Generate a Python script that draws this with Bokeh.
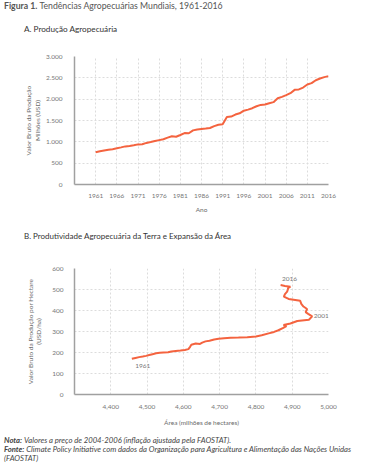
from bokeh.plotting import figure
from bokeh.models import FixedTicker, CustomJSTickFormatter, NumeralTickFormatter, Range1d, Div
from bokeh.layouts import column
from bokeh.embed import file_html
from bokeh.resources import INLINE
from bokeh.core.properties import value

# ---------------- data ----------------
years = list(range(1961, 2017))

# A. Gross production value, million USD (2004-2006 prices)
production = [758, 778, 795, 812, 828, 848, 870, 893, 905, 920,
              940, 945, 975, 995, 1018, 1040, 1062, 1098, 1130, 1120,
              1160, 1205, 1200, 1268, 1290, 1300, 1310, 1325, 1368, 1400,
              1412, 1580, 1592, 1640, 1668, 1730, 1755, 1788, 1834, 1866,
              1875, 1905, 1930, 2020, 2055, 2094, 2140, 2218, 2228, 2272,
              2344, 2375, 2444, 2484, 2516, 2540]

# B. Agricultural area (million ha) and productivity (USD/ha)
area = [4458, 4468, 4478, 4488, 4497, 4506, 4515, 4525, 4535, 4545,
        4558, 4567, 4579, 4592, 4604, 4614, 4619, 4622, 4634, 4646,
        4652, 4661, 4672, 4685, 4697, 4712, 4730, 4752, 4776, 4800,
        4816, 4835, 4850, 4862, 4874, 4884, 4876, 4895, 4914, 4946,
        4955, 4944, 4937, 4941, 4931, 4925, 4922, 4890, 4877, 4880,
        4886, 4888, 4889, 4895, 4880, 4868]
productivity = [170, 174, 178, 181, 184, 188, 192, 196, 199, 200,
                201, 205, 207, 209, 212, 216, 228, 237, 243, 241,
                247, 253, 256, 262, 265, 268, 270, 271, 273, 276,
                282, 291, 298, 306, 316, 326, 331, 338, 350, 356,
                372, 384, 392, 407, 419, 432, 446, 455, 466, 478,
                490, 500, 508, 513, 517, 521]

x_ticks_a = [1961, 1966, 1971, 1976, 1981, 1986, 1991, 1996, 2001, 2006, 2011, 2016]
y_ticks_a = [0, 500, 1000, 1500, 2000, 2500, 3000]
x_ticks_b = [4400, 4500, 4600, 4700, 4800, 4900, 5000]
y_ticks_b = [0, 100, 200, 300, 400, 500, 600]
labelled_years = [1961, 2001, 2016]

# ---------------- style ----------------
FONT = "Lato"
LINE = "#F4633F"
TICK_C = "#777777"
AXIS_T = "#6b6b6b"
GRID_C = "#dcdcdc"


def style(p):
    p.outline_line_color = None
    p.background_fill_color = "white"
    p.border_fill_color = "white"
    for g in (p.xgrid, p.ygrid):
        g.grid_line_color = GRID_C
        g.grid_line_dash = "2 2"
        g.grid_line_width = 1
    for ax in (p.xaxis, p.yaxis):
        ax.axis_line_color = "#a0a0a0"
        ax.axis_line_width = 1.5
        ax.major_tick_line_color = None
        ax.minor_tick_line_color = None
        ax.major_label_text_font = FONT
        ax.major_label_text_font_size = "6.5px"
        ax.major_label_text_color = TICK_C
        ax.axis_label_text_font = FONT
        ax.axis_label_text_font_size = "6.5px"
        ax.axis_label_text_color = AXIS_T
        ax.axis_label_text_font_style = "normal"


# ---------------- header + title A ----------------
head = Div(text=('<div style="line-height:12px;font-size:8.7px;color:#555555;padding-left:4px;white-space:nowrap">'
                 '<span style="font-weight:bold">Figura 1.</span> Tendências Agropecuárias Mundiais, 1961-2016</div>'
                 '<div style="line-height:12px;font-size:8.2px;color:#333333;padding-left:24px;margin-top:11px;'
                 'white-space:nowrap">A. Produção Agropecuária</div>'),
           width=360, height=44, margin=0, styles={"font-family": FONT})

# ---------------- Figure A ----------------
pa = figure(width=360, height=176, output_backend="svg", toolbar_location=None,
            x_range=Range1d(1956, 2016), y_range=Range1d(0, 3000),
            min_border_left=74, min_border_right=32, min_border_top=12, min_border_bottom=36)
style(pa)
pa.xaxis.ticker = FixedTicker(ticks=x_ticks_a)
pa.yaxis.ticker = FixedTicker(ticks=y_ticks_a)
pa.yaxis.formatter = CustomJSTickFormatter(code="""
const s = Math.round(tick).toString();
return s.length > 3 ? s.slice(0, s.length - 3) + '.' + s.slice(-3) : s;
""")
pa.xaxis.axis_label = "Ano"
pa.yaxis.axis_label = "Valor Bruto da Produção\nMilhões (USD)"
pa.xaxis.major_label_standoff = 3
pa.xaxis.axis_label_standoff = 5
pa.yaxis.major_label_standoff = 6
pa.yaxis.axis_label_standoff = 2
pa.line(years, production, line_color=LINE, line_width=2)

# ---------------- title B ----------------
head_b = Div(text='B. Produtividade Agropecuária da Terra e Expansão da Área',
             width=360, height=32, margin=0,
             styles={"font-family": FONT, "font-size": "8px", "line-height": "12px",
                     "color": "#333333", "padding-left": "24px", "padding-top": "10px",
                     "white-space": "nowrap"})

# ---------------- Figure B ----------------
pb = figure(width=360, height=176, output_backend="svg", toolbar_location=None,
            x_range=Range1d(4300, 5000), y_range=Range1d(0, 600),
            min_border_left=73, min_border_right=31, min_border_top=16, min_border_bottom=33)
style(pb)
pb.xaxis.ticker = FixedTicker(ticks=x_ticks_b)
pb.yaxis.ticker = FixedTicker(ticks=y_ticks_b)
pb.xaxis.formatter = NumeralTickFormatter(format="0,0")
pb.xaxis.axis_label = "Área (milhões de hectares)"
pb.yaxis.axis_label = "Valor Bruto da Produção por Hectare\n(USD/ha)"
pb.xaxis.major_label_standoff = 4
pb.xaxis.axis_label_standoff = 7
pb.yaxis.major_label_standoff = 5
pb.yaxis.axis_label_standoff = 7
pb.line(area, productivity, line_color=LINE, line_width=2)

offsets = {1961: (11, 7, "center"), 2001: (1.5, 0, "left"), 2016: (9, -6, "center")}
for yr in labelled_years:
    i = years.index(yr)
    dx, dy, al = offsets[yr]
    pb.text([area[i]], [productivity[i]], text=[str(yr)], x_offset=dx, y_offset=dy,
            text_font=value(FONT), text_font_size="6.5px", text_color=TICK_C,
            text_align=al, text_baseline="middle")

# ---------------- notes ----------------
notes = Div(text=('<b><i>Nota:</i></b> <i>Valores a preço de 2004-2006 (inflação ajustada pela FAOSTAT).</i><br>'
                  '<b><i>Fonte:</i></b> <i>Climate Policy Initiative com dados da Organização para Agricultura '
                  'e Alimentação das Nações Unidas</i><br><i>(FAOSTAT)</i>'),
            width=360, height=36, margin=0,
            styles={"font-family": FONT, "font-size": "7.7px", "line-height": "9px",
                    "color": "#444444", "padding-left": "4px", "padding-top": "8px",
                    "white-space": "nowrap"})

layout = column(head, pa, head_b, pb, notes, spacing=0)
open("out.html", "w").write(file_html(layout, INLINE))
